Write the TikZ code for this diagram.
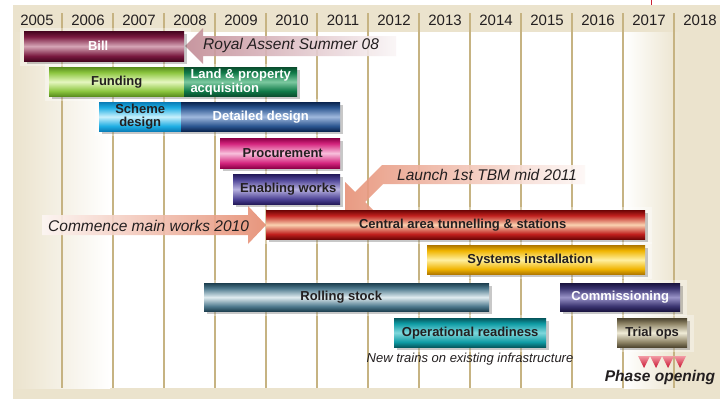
\documentclass[tikz,border=0pt]{standalone}
\usepackage{fontspec}
\setmainfont{Liberation Sans}
\usetikzlibrary{shadows}

\definecolor{beige}{HTML}{EBE3CD}
\definecolor{gridc}{HTML}{C6B382}
\definecolor{ink}{HTML}{231F20}
\definecolor{salmon}{HTML}{E58B6F}
\definecolor{mauve}{HTML}{C28B95}
\definecolor{tri1}{HTML}{F29AA4}
\definecolor{tri2}{HTML}{C8102E}
\definecolor{tickred}{HTML}{CC2233}

\newcommand\defbar[4]{%
 \definecolor{#1D}{HTML}{#2}\definecolor{#1M}{HTML}{#3}\definecolor{#1L}{HTML}{#4}%
 \pgfdeclareverticalshading{#1S}{100bp}{color(0bp)=(#1D); color(25bp)=(#1D); color(34bp)=(#1M); color(50bp)=(#1L); color(66bp)=(#1M); color(75bp)=(#1D); color(100bp)=(#1D)}}

\defbar{bill}{45051F}{7A1A40}{D6A6B6}
\defbar{fund}{5A8E1E}{8CC63F}{E6F7C0}
\defbar{land}{0A4E2E}{0F7A48}{7CC9A0}
\defbar{scheme}{0A7EB8}{1FAEE3}{C8F0FC}
\defbar{detail}{0A2550}{2A5590}{9FB8DD}
\defbar{proc}{8E0048}{D5257E}{F8C0DC}
\defbar{enab}{241A5A}{4E4496}{B8B2E0}
\defbar{central}{6E0606}{C0201E}{FAD2B0}
\defbar{sys}{B07800}{F0B400}{FFF0A0}
\defbar{roll}{1E4050}{4F7A8E}{E0ECF0}
\defbar{comm}{1A1440}{3A3470}{9A94C8}
\defbar{oper}{05585E}{0E9BA4}{7FD8DC}
\defbar{trial}{4E4630}{8E8466}{F0ECD8}

\newcommand\barfont{\fontsize{13}{14}\selectfont\bfseries}

\tikzset{
  bar/.style={shade, inner sep=0pt, anchor=north west, font=\barfont, text=ink,
    drop shadow={shadow xshift=3pt, shadow yshift=-3pt, opacity=0.3, fill=black!70}},
  year/.style={font=\fontsize{15}{15}\selectfont, text=ink, inner sep=0pt},
  note/.style={font=\fontsize{15.5}{16}\selectfont\itshape, text=ink, inner sep=0pt, anchor=west},
  gridline/.style={draw=gridc, line width=1.1pt},
  halo/.style={fill=white, opacity=0.35},
}

\begin{document}
\begin{tikzpicture}[x=1pt,y=-1pt]
\useasboundingbox (0,0) rectangle (728,399);
% background
\fill[beige] (13,5) rectangle (720,399);
\shade[left color=beige, right color=white] (13,32) rectangle (110,388);
\fill[white] (110,32) rectangle (624,388);
\shade[left color=white, right color=beige] (624,32) rectangle (680,388);
\draw[tickred, line width=1pt] (651,0) -- (651,5);
% grid
\foreach \k in {0,...,12} \draw[gridline] (62+51*\k,13) -- (62+51*\k,388);
\foreach \y [count=\k from 0] in {2005,...,2018} \node[year] (y\y) at (37+51*\k,20) {\y};
% halos
\foreach \a/\b/\c/\d in {24/31/184/61, 49/67/297/96, 99/102/340/131, 220/138/340/168,
  233/174/340/204, 266/210/645/239, 427/245/645/274, 204/283/489/311, 560/283/680/311,
  394/318/546/347, 617/318/687/347}
  \fill[halo] (\a-4,\b-3) rectangle (\c+7,\d+5);
% arrows
\shade[left color=mauve, right color=mauve!8!white, fill opacity=0.9]
  (185,46) -- (203,28) -- (203,36) -- (396,36) -- (396,56) -- (203,56) -- (203,64) -- cycle;
\shade[left color=salmon!8!white, right color=salmon, fill opacity=0.9]
  (266,225) -- (248,244) -- (248,235) -- (42,235) -- (42,215) -- (248,215) -- (248,206) -- cycle;
\shade[left color=salmon!95, right color=salmon!6!white, fill opacity=0.9]
  (345,212) -- (375,212) -- (365,202) -- (383,184) -- (585,184) -- (585,165) -- (382,165)
  -- (355,192) -- (345,182) -- cycle;
% bars
\node[bar, shading=billS, text=white, minimum width=160pt, minimum height=30pt] (bill) at (24,31) {Bill\hspace*{12pt}};
\node[bar, shading=fundS, minimum width=135pt, minimum height=29pt] (fund) at (49,67) {Funding};
\node[bar, shading=landS, text=white, align=left, minimum width=113pt, minimum height=29pt] (land) at (184,67) {Land \& property\\acquisition};
\node[bar, shading=schemeS, align=center, font=\fontsize{13}{12.5}\selectfont\bfseries, minimum width=82pt, minimum height=29pt] (scheme) at (99,102) {Scheme\\design};
\node[bar, shading=detailS, text=white, minimum width=159pt, minimum height=29pt] (detail) at (181,102) {Detailed design};
\node[bar, shading=procS, minimum width=120pt, minimum height=30pt] (proc) at (220,138) {\hspace*{5pt}Procurement};
\node[bar, shading=enabS, minimum width=107pt, minimum height=30pt] (enab) at (233,174) {\hspace*{3pt}Enabling works};
\node[bar, shading=centralS, minimum width=379pt, minimum height=29pt] (central) at (266,210) {\hspace*{14pt}Central area tunnelling \& stations};
\node[bar, shading=sysS, minimum width=218pt, minimum height=29pt] (sys) at (427,245) {Systems installation\hspace*{12pt}};
\node[bar, shading=rollS, minimum width=285pt, minimum height=28pt] (roll) at (204,283) {Rolling stock\hspace*{11pt}};
\node[bar, shading=commS, text=white, minimum width=120pt, minimum height=28pt] (comm) at (560,283) {Commissioning};
\node[bar, shading=operS, minimum width=152pt, minimum height=29pt] (oper) at (394,318) {Operational readiness};
\node[bar, shading=trialS, minimum width=70pt, minimum height=29pt] (trial) at (617,318) {Trial ops};
% notes
\node[note] (royal) at (203,45.5) {Royal Assent Summer 08};
\node[note] (commence) at (48,226) {Commence main works 2010};
\node[note] (launch) at (397,174.5) {Launch 1st TBM mid 2011};
\node[font=\fontsize{13}{13}\selectfont\itshape, text=ink, inner sep=0pt] (newtrains) at (470,359.5) {New trains on existing infrastructure};
% phase opening
\foreach \cx in {644,656,668,680}
  \shade[top color=tri1, bottom color=tri2] (\cx-6,356) -- (\cx+6,356) -- (\cx,368) -- cycle;
\node[font=\fontsize{15.5}{16}\selectfont\bfseries\itshape, text=ink, inner sep=0pt] (phase) at (660,377.5) {Phase opening};
\end{tikzpicture}
\end{document}
